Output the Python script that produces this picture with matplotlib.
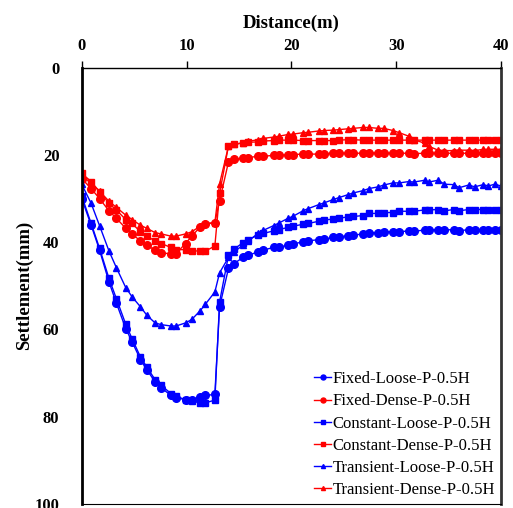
import matplotlib
matplotlib.use("Agg")
import matplotlib.pyplot as plt

plt.rcParams['font.family'] = ['Liberation Serif', 'DejaVu Serif']

# distance along the section (m)
distance = [0, 0.9, 1.7, 2.6, 3.3, 4.2, 4.8, 5.6, 6.2, 7.0, 7.6, 8.5, 9.0, 9.9, 10.5, 11.3, 11.8, 12.7,
            13.15,
            14.0, 14.5, 15.4, 15.9, 16.8, 17.3, 18.3, 18.8, 19.7, 20.2, 21.1, 21.6, 22.6, 23.1, 24.0, 24.5, 25.4, 25.9,
            26.8, 27.4, 28.3, 28.8, 29.7, 30.3, 31.2, 31.7, 32.7, 33.1, 34.0, 34.6, 35.5, 36.0, 36.9, 37.5, 38.3, 38.8, 39.4, 40.0]

# settlement (mm)
fixed_loose = [30.0, 36.1, 41.8, 49.1, 53.9, 59.8, 62.8, 66.9, 69.2, 72.0, 73.4, 75.1, 75.6, 76.1, 76.1, 75.5, 75.1, 74.9,
               54.8,
               46.0, 44.9, 43.5, 43.0, 42.2, 41.8, 41.2, 41.1, 40.7, 40.4, 39.9, 39.7, 39.4, 39.3, 38.9, 38.8, 38.5, 38.4,
               38.1, 37.8, 37.8, 37.6, 37.6, 37.6, 37.4, 37.5, 37.2, 37.2, 37.1, 37.2, 37.1, 37.4, 37.1, 37.2, 37.1, 37.1, 37.1, 37.1]
fixed_dense = [25.4, 27.7, 30.0, 32.8, 34.5, 36.8, 38.1, 39.7, 40.7, 41.8, 42.4, 42.7, 42.6, 40.3, 38.6, 36.5, 35.9, 35.5,
               30.5,
               21.6, 21.0, 20.8, 20.6, 20.3, 20.3, 20.1, 20.0, 20.0, 19.9, 19.8, 19.8, 19.8, 19.7, 19.6, 19.6, 19.6, 19.6,
               19.6, 19.6, 19.5, 19.6, 19.6, 19.6, 19.6, 19.7, 19.6, 19.6, 19.6, 19.6, 19.6, 19.6, 19.6, 19.6, 19.6, 19.6, 19.6, 19.6]
const_loose = [29.4, 35.7, 41.4, 48.3, 52.9, 58.8, 62.1, 66.3, 68.6, 71.5, 72.8, 74.7, 75.3, 76.1, 76.4, 76.8, 76.8, 76.2,
               53.7,
               43.0, 41.6, 40.1, 39.4, 38.4, 38.0, 37.4, 37.1, 36.6, 36.3, 35.9, 35.7, 35.2, 34.9, 34.7, 34.5, 34.2, 34.1,
               33.9, 33.4, 33.4, 33.2, 33.2, 32.9, 32.9, 32.9, 32.6, 32.6, 32.5, 32.8, 32.5, 32.8, 32.5, 32.5, 32.5, 32.5, 32.5, 32.5]
const_dense = [24.2, 26.1, 28.4, 31.1, 32.6, 34.8, 35.7, 37.6, 38.6, 39.7, 40.3, 41.2, 41.7, 41.7, 42.0, 42.0, 42.0, 40.9,
               28.8,
               17.9, 17.6, 17.2, 17.1, 17.0, 16.8, 16.7, 16.6, 16.6, 16.6, 16.7, 16.7, 16.7, 16.7, 16.7, 16.6, 16.5, 16.5,
               16.6, 16.6, 16.6, 16.6, 16.6, 16.6, 16.6, 16.6, 16.6, 16.6, 16.6, 16.6, 16.6, 16.6, 16.6, 16.6, 16.6, 16.6, 16.6, 16.6]
trans_loose = [26.7, 31.1, 36.2, 42.0, 45.8, 50.4, 52.5, 54.8, 56.7, 58.5, 58.9, 59.2, 59.2, 58.5, 57.7, 55.7, 54.2, 51.4,
               47.0,
               43.5, 42.3, 40.6, 39.7, 38.0, 37.3, 36.2, 35.6, 34.5, 34.0, 32.8, 32.3, 31.4, 31.0, 30.2, 29.8, 29.1, 28.7,
               28.2, 27.7, 27.3, 26.9, 26.4, 26.4, 26.1, 26.2, 25.8, 26.2, 25.8, 26.7, 26.8, 27.5, 26.9, 27.3, 26.8, 27.1, 26.7, 27.1]
trans_dense = [24.5, 26.6, 28.3, 30.6, 32.0, 33.8, 34.8, 36.1, 36.8, 37.8, 38.1, 38.6, 38.6, 38.1, 37.6, 36.3, 35.7, 35.5,
               26.6,
               18.0, 17.6, 17.2, 16.9, 16.5, 16.2, 15.9, 15.7, 15.3, 15.2, 14.9, 14.8, 14.5, 14.4, 14.3, 14.2, 14.0, 13.9,
               13.7, 13.7, 13.9, 13.9, 14.4, 14.9, 15.7, 16.5, 17.3, 18.0, 18.9, 19.0, 19.0, 18.9, 18.9, 19.0, 18.7, 18.7, 18.7, 18.7]

fig = plt.figure(figsize=(5.13, 5.08), dpi=100)
ax = fig.add_axes([0.1593, 0.0079, 0.8174, 0.8588])

ax.plot(distance, fixed_loose, '-o', color='#0000ff', lw=1, ms=5.5, label='Fixed-Loose-P-0.5H')
ax.plot(distance, fixed_dense, '-o', color='#ff0000', lw=1, ms=5.5, label='Fixed-Dense-P-0.5H')
ax.plot(distance, const_loose, '-s', color='#0000ff', lw=1, ms=5, label='Constant-Loose-P-0.5H')
ax.plot(distance, const_dense, '-s', color='#ff0000', lw=1, ms=5, label='Constant-Dense-P-0.5H')
ax.plot(distance, trans_loose, '-^', color='#0000ff', lw=1, ms=4.5, label='Transient-Loose-P-0.5H')
ax.plot(distance, trans_dense, '-^', color='#ff0000', lw=1, ms=4.5, label='Transient-Dense-P-0.5H')

ax.set_xlim(0, 40)
ax.set_ylim(100, 0)
ax.set_xticks([0, 10, 20, 30, 40])
ax.set_yticks([0, 20, 40, 60, 80, 100])
ax.xaxis.tick_top()
ax.xaxis.set_label_position('top')
ax.tick_params(axis='x', direction='out', length=5, width=1, pad=5, labelsize=12)
ax.tick_params(axis='y', length=0, pad=16, labelsize=12)
for lab in ax.get_xticklabels() + ax.get_yticklabels():
    lab.set_fontweight('bold')

ax.set_xlabel('Distance(m)', fontsize=13.5, fontweight='bold', labelpad=7)
ax.set_ylabel('Settlement(mm)', fontsize=13.5, fontweight='bold', labelpad=1)

ax.spines['left'].set_linewidth(2)
ax.spines['right'].set_linewidth(2)
ax.spines['right'].set_color('#333333')
ax.spines['top'].set_linewidth(1)

ax.legend(loc='lower right', frameon=False, fontsize=12, handlelength=1.0,
          handletextpad=0.1, labelspacing=0.37, borderpad=0, borderaxespad=0.35,
          markerscale=0.65)

fig.savefig('out.png', dpi=100)
